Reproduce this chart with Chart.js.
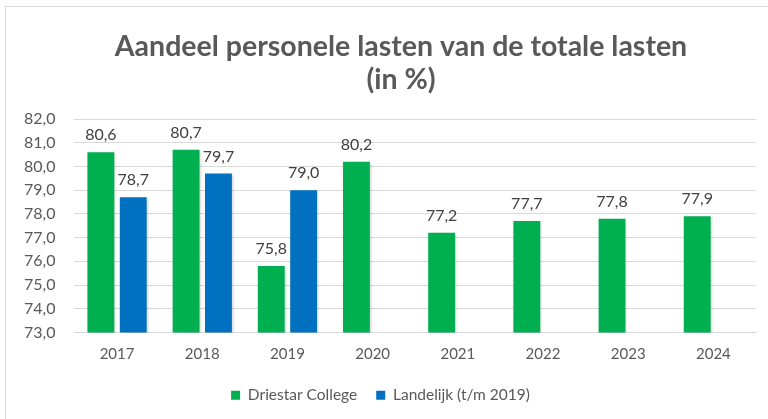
<!DOCTYPE html>
<html>
<head>
<meta charset="utf-8">
<script src="https://cdn.jsdelivr.net/npm/chart.js@4.4.1/dist/chart.umd.min.js"></script>
<style>
    html, body { margin: 0; padding: 0; background: #fff; }
    #wrap { position: relative; width: 768px; height: 419px; overflow: hidden; }
    #frame { position: absolute; left: 5px; top: 6px; width: 800px; height: 500px; border: 1.5px solid #d9d9d9; box-sizing: border-box; }
    canvas { position: absolute; left: 0; top: 0; }
</style>
</head>
<body>
<div id="wrap">
    <div id="frame"></div>
    <canvas id="chart" width="768" height="419"></canvas>
</div>
<script>
// chart data
const years = ['2017', '2018', '2019', '2020', '2021', '2022', '2023', '2024'];
const driestar = [80.6, 80.7, 75.8, 80.2, 77.2, 77.7, 77.8, 77.9];
const landelijk = [78.7, 79.7, 79.0, null, null, null, null, null];
const seriesNames = ['Driestar College', 'Landelijk (t/m 2019)'];
const titleLines = ['Aandeel personele lasten van de totale lasten', '(in %)'];

const fmt = (v) => v.toFixed(1).replace('.', ',');
const FONT = 'Lato, "Open Sans", sans-serif';

// title is centred on the chart frame, not on the canvas
const frameTitle = {
    id: 'frameTitle',
    afterDraw(chart) {
        const ctx = chart.ctx;
        ctx.save();
        ctx.font = 'bold 28.5px ' + FONT;
        ctx.fillStyle = '#595959';
        ctx.textAlign = 'center';
        ctx.textBaseline = 'middle';
        titleLines.forEach((line, i) => ctx.fillText(line, 401, 47 + i * 33));
        ctx.restore();
    }
};

// values above the bars
const valueLabels = {
    id: 'valueLabels',
    afterDatasetsDraw(chart) {
        const ctx = chart.ctx;
        ctx.save();
        ctx.font = '16px ' + FONT;
        ctx.fillStyle = '#404040';
        ctx.textAlign = 'center';
        ctx.textBaseline = 'bottom';
        chart.data.datasets.forEach((ds, i) => {
            chart.getDatasetMeta(i).data.forEach((bar, j) => {
                if (ds.data[j] == null) return;
                ctx.fillText(fmt(ds.data[j]), bar.x, bar.y - 9);
            });
        });
        ctx.restore();
    }
};

// soft shadow like the original
const barShadow = {
    id: 'barShadow',
    beforeDatasetsDraw(chart) {
        const ctx = chart.ctx;
        ctx.save();
        ctx.shadowColor = 'rgba(0,0,0,0.22)';
        ctx.shadowBlur = 3;
        ctx.shadowOffsetX = 1;
        ctx.shadowOffsetY = 1;
    },
    afterDatasetsDraw(chart) {
        chart.ctx.restore();
    }
};

new Chart(document.getElementById('chart'), {
    type: 'bar',
    data: {
        labels: years,
        datasets: [
            { label: seriesNames[0], data: driestar, backgroundColor: '#00b050', borderWidth: 0 },
            { label: seriesNames[1], data: landelijk, backgroundColor: '#0070c0', borderWidth: 0 }
        ]
    },
    options: {
        responsive: false,
        animation: false,
        categoryPercentage: 0.76,
        barPercentage: 0.83,
        layout: { padding: { left: 5, right: 12, top: 119, bottom: 6 } },
        plugins: {
            title: { display: false },
            legend: {
                position: 'bottom',
                labels: {
                    color: '#595959',
                    font: { family: FONT, size: 15.5 },
                    boxWidth: 9,
                    boxHeight: 9,
                    padding: 19
                }
            },
            tooltip: { enabled: false }
        },
        scales: {
            x: {
                grid: { display: false },
                border: { color: '#d9d9d9' },
                ticks: { color: '#595959', font: { family: FONT, size: 15 }, padding: 5 }
            },
            y: {
                min: 73,
                max: 82,
                grid: { color: '#d9d9d9', drawTicks: false },
                border: { display: false },
                ticks: {
                    stepSize: 1,
                    color: '#595959',
                    font: { family: FONT, size: 16 },
                    padding: 19,
                    callback: (v) => fmt(v)
                }
            }
        }
    },
    plugins: [barShadow, valueLabels, frameTitle]
});
</script>
</body>
</html>
